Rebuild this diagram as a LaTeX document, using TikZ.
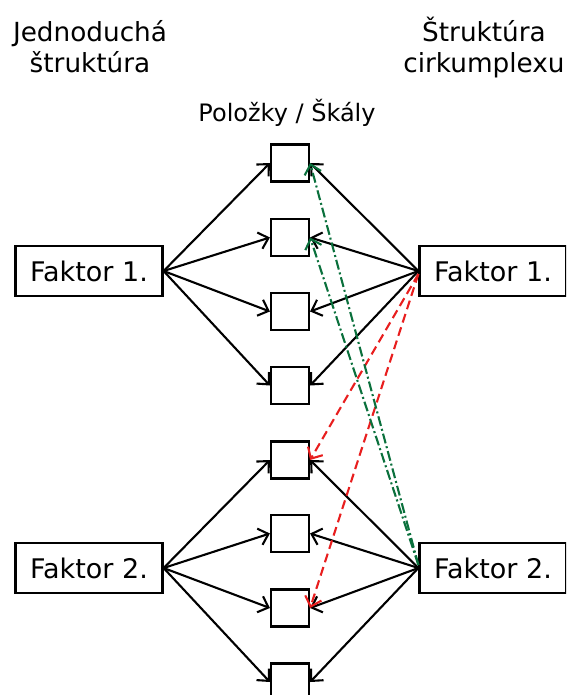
\documentclass[tikz,border=0pt]{standalone}
\usepackage{fontspec}
\setmainfont{DejaVu Sans}
\usetikzlibrary{arrows.meta}
\definecolor{linkgreen}{RGB}{10,112,60}
\definecolor{linkred}{RGB}{232,30,30}
\tikzset{
  factor/.style={draw, line width=2.2pt, minimum width=147pt, minimum height=50pt,
                 inner sep=0pt, font=\fontsize{27}{31}\selectfont},
  item/.style={draw, line width=2.2pt, minimum width=38pt, minimum height=37pt, inner sep=0pt},
  heading/.style={anchor=base, inner sep=0pt, font=\fontsize{26.3}{31}\selectfont},
  link/.style={line width=2.1pt, -{Straight Barb[length=9pt,width=17pt,line width=2.1pt]}},
  redlink/.style={link, linkred, dash pattern=on 9pt off 5pt},
  greenlink/.style={link, linkgreen, dash pattern=on 10pt off 3pt on 2pt off 3pt},
}
\begin{document}
\begin{tikzpicture}[x=1pt,y=-1pt]
  \useasboundingbox (0,0) rectangle (566,695);
  \clip (0,0) rectangle (566,695);

  % headings
  \node[heading] (hleft1) at (90,42) {Jednoduchá};
  \node[heading] (hleft2) at (90,73) {štruktúra};
  \node[heading] (hright1) at (484,42) {Štruktúra};
  \node[heading] (hright2) at (484,73) {cirkumplexu};
  \node[heading, font=\fontsize{24}{28}\selectfont] (hitems) at (287,122) {Položky / Škály};

  % factor boxes
  \node[factor] (l1) at (89,271) {Faktor 1.};
  \node[factor] (l2) at (89,568) {Faktor 2.};
  \node[factor] (r1) at (493,271) {Faktor 1.};
  \node[factor] (r2) at (493,568) {Faktor 2.};

  % item boxes
  \foreach \i/\y in {1/163,2/237.5,3/311.5,4/385.5,5/460,6/533.5,7/608,8/682}
    \node[item] (b\i) at (290,\y) {};

  % simple structure
  \foreach \i in {1,2,3,4} \draw[link] (l1.east) -- (b\i.west);
  \foreach \i in {5,6,7,8} \draw[link] (l2.east) -- (b\i.west);

  % circumplex structure
  \foreach \i in {1,2,3,4} \draw[link] (r1.west) -- (b\i.east);
  \foreach \i in {5,6,7,8} \draw[link] (r2.west) -- (b\i.east);

  % cross loadings
  \coordinate (r1x) at ([yshift=-3pt]r1.west);
  \coordinate (r2x) at ([yshift=3pt]r2.west);
  \draw[redlink] (r1x) -- (b5.east);
  \draw[redlink] (r1x) -- (b7.east);
  \draw[greenlink] (r2x) -- (b1.east);
  \draw[greenlink] (r2x) -- (b2.east);
\end{tikzpicture}
\end{document}
